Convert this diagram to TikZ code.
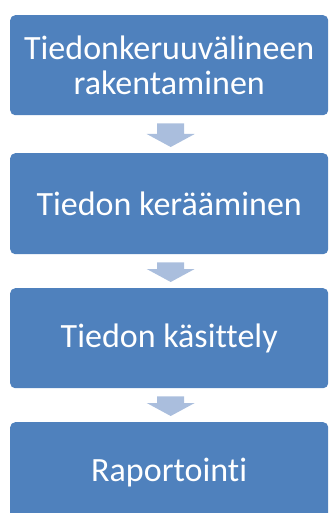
\documentclass[tikz,border=0pt]{standalone}
\usepackage{fontspec}
\setmainfont{Carlito}[Ligatures={NoCommon}]
\usetikzlibrary{calc}
\definecolor{boxblue}{HTML}{4F81BD}
\definecolor{arrowblue}{HTML}{AABEDD}
\begin{document}
\begin{tikzpicture}[x=1pt,y=-1pt,
  stepbox/.style={draw=none, fill=boxblue, rounded corners=5pt,
    minimum width=318pt, minimum height=100pt, inner sep=0pt,
    text=white, align=center, font=\fontsize{34}{35}\selectfont},
  flowarrow/.style={fill=arrowblue, draw=none}]
  \useasboundingbox (0,0) rectangle (329,513);

  % process steps
  \node[stepbox, anchor=north west] (s1) at (10,15)  {Tiedonkeruuvälineen\\rakentaminen};
  \node[stepbox, anchor=north west, minimum height=101pt] (s2) at (10,153) {Tiedon kerääminen};
  \node[stepbox, anchor=north west] (s3) at (10,288) {Tiedon käsittely};
  \node[stepbox, anchor=north west] (s4) at (10,422) {Raportointi};

  % block arrows between consecutive steps
  \foreach \a/\b in {s1/s2, s2/s3, s3/s4}{
    \coordinate (t) at ($(\a.south)+(1.5,8)$);
    \coordinate (p) at ($(\b.north)+(1.5,-6)$);
    \fill[flowarrow] ($(t)+(-13.5,0)$) -- ($(t)+(13.5,0)$)
      -- ($(p)+(13.5,-13)$) -- ($(p)+(24,-13)$) -- (p)
      -- ($(p)+(-24,-13)$) -- ($(p)+(-13.5,-13)$) -- cycle;
  }
\end{tikzpicture}
\end{document}
